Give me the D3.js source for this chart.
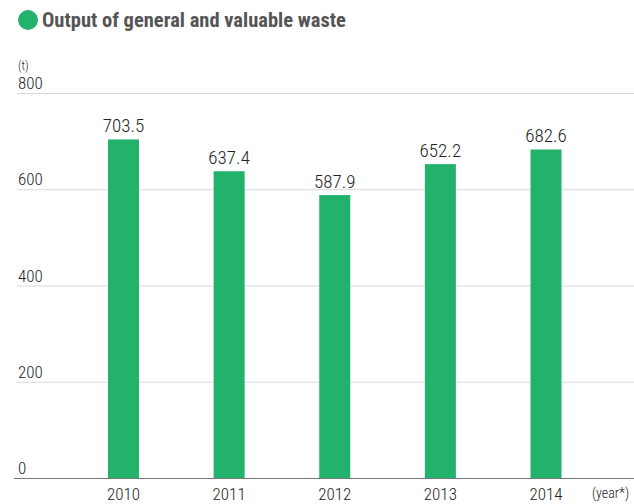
<!DOCTYPE html>
<meta charset="utf-8">
<style>
	body { margin: 0; background: #fff; }
	svg text { font-family: "Liberation Sans Narrow", "Roboto Condensed", "Liberation Sans", sans-serif; fill: #222; font-weight: 300; }
	.title { font-weight: bold !important; fill: #555; font-size: 20.5px; }
</style>
<body>
	<script src="https://d3js.org/d3.v7.min.js"></script>
	<script>
		var years = ["2010", "2011", "2012", "2013", "2014"];
		var values = [703.5, 637.4, 587.9, 652.2, 682.6];
		var yTicks = [0, 200, 400, 600, 800];

		var width = 634, height = 504;
		var green = "#22b26c";

		var svg = d3.select("body").append("svg")
			.attr("width", width)
			.attr("height", height);

		// title with green dot
		svg.append("circle")
			.attr("cx", 28)
			.attr("cy", 20)
			.attr("r", 10)
			.attr("fill", green);
		svg.append("text")
			.attr("class", "title")
			.attr("x", 42)
			.attr("y", 27)
			.text("Output of general and valuable waste");

		var x = d3.scalePoint()
			.domain(years)
			.range([123.5, 546]);

		var y = d3.scaleLinear()
			.domain([0, 800])
			.range([478, 93]);

		var barW = 31;

		// gridlines
		svg.selectAll(".grid")
			.data(yTicks.filter(function(d) { return d > 0; }))
			.enter().append("line")
			.attr("x1", 17)
			.attr("x2", width)
			.attr("y1", function(d) { return y(d) + 0.5; })
			.attr("y2", function(d) { return y(d) + 0.5; })
			.attr("stroke", "#d9d9d9")
			.attr("stroke-width", 1);

		// tick labels
		svg.selectAll(".ylab")
			.data(yTicks)
			.enter().append("text")
			.attr("x", 18)
			.attr("y", function(d) { return y(d) - 4; })
			.style("font-size", "17px")
			.text(function(d) { return d; });

		svg.append("text")
			.attr("x", 18)
			.attr("y", 70)
			.style("font-size", "12px")
			.text("(t)");

		// bars
		svg.selectAll(".bar")
			.data(values)
			.enter().append("rect")
			.attr("class", "bar")
			.attr("x", function(d, i) { return x(years[i]) - barW / 2; })
			.attr("width", barW)
			.attr("y", function(d) { return y(d); })
			.attr("height", function(d) { return y(0) - y(d); })
			.attr("fill", green);

		// value labels
		svg.selectAll(".val")
			.data(values)
			.enter().append("text")
			.attr("x", function(d, i) { return x(years[i]); })
			.attr("y", function(d) { return y(d) - 7; })
			.attr("text-anchor", "middle")
			.style("font-size", "19px")
			.text(function(d) { return d.toFixed(1); });

		// baseline
		svg.append("line")
			.attr("x1", 14)
			.attr("x2", width)
			.attr("y1", y(0) + 0.5)
			.attr("y2", y(0) + 0.5)
			.attr("stroke", "#777")
			.attr("stroke-width", 1);

		// year labels
		svg.selectAll(".xlab")
			.data(years)
			.enter().append("text")
			.attr("x", function(d) { return x(d); })
			.attr("y", 500)
			.attr("text-anchor", "middle")
			.style("font-size", "17px")
			.text(function(d) { return d; });

		svg.append("text")
			.attr("x", 592)
			.attr("y", 498)
			.style("font-size", "14px")
			.text("(year*)");
	</script>
</body>
